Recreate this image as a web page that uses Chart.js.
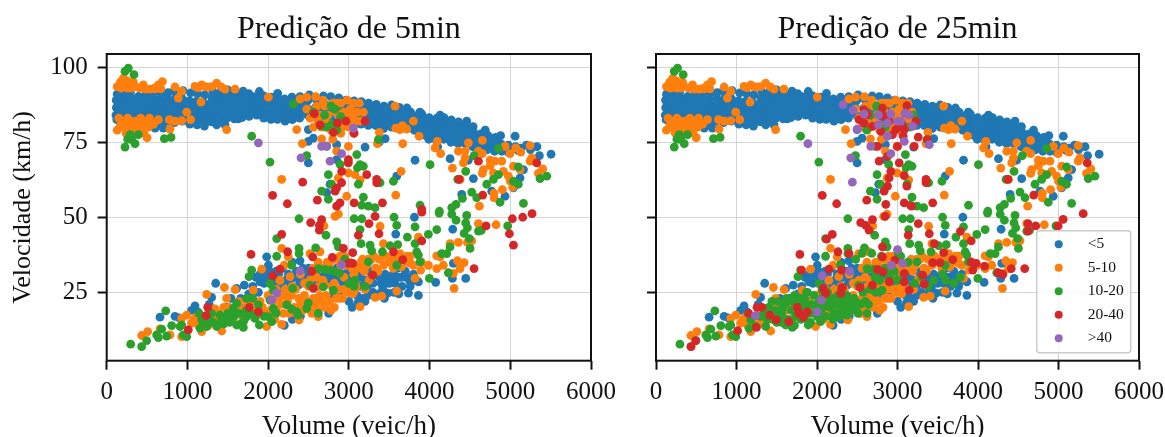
<!DOCTYPE html>
<html><head><meta charset="utf-8">
<script src="https://cdn.jsdelivr.net/npm/chart.js@4"></script>
<style>html,body{margin:0;padding:0;background:#fff;width:1165px;height:437px;overflow:hidden}
canvas{position:absolute;top:0;filter:blur(0.35px)}</style></head>
<body><canvas id="a" style="left:0"></canvas><canvas id="b" style="left:600px"></canvas>
<script>
const xTicks=[0,1000,2000,3000,4000,5000,6000];
const yTicks=[25,50,75,100];
const classes=['<5','5-10','10-20','20-40','>40'];
const titles=['Predição de 5min','Predição de 25min'];
// flat lists: volume, velocity, volume, velocity ...
const blueBand=[115,84,120,86.5,118,89,125,82.5,130,91,205,82,210,84.5,200,87,215,89.5,210,91.5,290,81.8,300,84.8,285,87.4,300,90,295,91.8,385,82.2,390,85,380,87.6,395,90.3,480,81.8,470,84.4,485,87,475,89.8,490,91.4,570,82.4,560,85,575,87.5,565,90,580,91.6,660,81.5,650,84.2,665,86.8,655,89.4,670,91.4,745,82,755,84.6,740,87.2,750,89.8,760,91.5,840,81.5,835,84.2,850,86.8,845,89.4,830,91.9,935,82,925,84.6,940,87.2,930,89.8,945,92.2,1030,81,1020,83.6,1035,86.2,1025,88.8,1040,91.4,1120,80.8,1115,83.4,1130,86,1110,88.6,1125,91.2,1210,80.4,1205,83,1220,85.6,1200,88.2,1215,90.8,1300,81.8,1310,84.4,1295,87,1305,89.6,1315,91.8,1395,82.6,1385,85.2,1400,87.8,1390,90.4,1410,92,1490,83,1480,85.6,1495,88.2,1485,90.8,1500,92.4,1580,82.8,1575,85.4,1590,88,1570,90.6,1585,92.2,1675,83.2,1665,85.8,1680,88.4,1670,91,1690,92,1765,83.6,1755,86.2,1770,88.8,1760,91.2,1860,84,1850,86.6,1865,89.2,1891,91.9,1945,83,1940,85.6,1955,88.2,1948,90.4,2035,82.6,2030,85.2,2045,87.8,2040,90,2118,91.3,2115,82.6,2120,85.2,2130,87.8,2125,89.6,2210,82,2200,84.6,2215,87.2,2205,89.4,2300,82.5,2290,85,2305,87.5,2295,90,2390,83,2385,85.5,2400,88,2395,90.2,2510,90.8,2490,84,2480,86.5,2495,89,2590,84,2585,86.5,2600,89,2680,83,2675,85.5,2690,88,2685,90.4,2780,82.5,2770,85,2785,87.5,2775,90.2,2870,82,2865,84.5,2880,87,2875,89.8,2970,81.5,2960,84,2975,86.5,2965,89,3060,81,3055,83.5,3070,86,3065,88.8,3150,81,3145,83.5,3160,86,3155,88.5,3240,80.6,3235,83,3250,85.6,3245,88,3335,80.5,3330,83,3345,85.4,3340,87.6,3430,79.5,3425,82,3440,84.5,3435,87,3530,80,3525,82.5,3540,85,3530,87.4,3620,79.5,3615,82,3630,84.5,3625,86.6,3715,79.5,3710,82,3725,84.3,3720,86.4,3810,79,3805,81.5,3820,83.8,3880,85,3900,77.5,3895,80,3910,82.4,3905,84.4,3990,76,3985,78.5,4000,81,3995,83.2,4085,75.5,4080,78,4095,80.5,4090,83,4130,84,4175,76,4170,78.5,4185,80.8,4180,83.2,4265,75,4260,77.5,4275,80,4270,82.4,4355,74.5,4350,77,4365,79.5,4360,81.8,4460,82,4445,74.5,4440,77,4455,79.5,4535,73.5,4530,76,4545,78.4,4540,80.2,4625,73,4620,75.5,4635,77.8,4690,79,4715,72.5,4710,75,4725,77.2,4805,72,4800,74.6,4815,76.6,4880,77.2,4895,72,4890,74.4,4980,71.5,4975,74,5060,77,5065,73.5,5130,73,5200,74,5250,72.5,5330,73.5,5361,70.5,5505,71];
const blueFill=[160,83.3,165,85.7,160,88.2,250,83.2,245,85.9,255,88.6,345,83.5,340,86.2,350,88.9,430,83.6,435,86.1,425,88.7,525,83.4,520,86.3,530,88.8,615,83.7,610,86.2,620,88.8,705,83.1,700,85.7,710,88.3,795,83.3,800,85.9,790,88.6,890,83.1,885,85.6,895,88.2,980,83,975,85.6,985,88.5,1070,82.4,1075,85,1065,87.6,1165,82,1160,84.8,1170,87.4,1255,82,1250,84.7,1260,87.5,1350,83.4,1345,86,1355,88.7,1440,84.1,1435,86.6,1445,89.2,1530,84.3,1525,86.8,1535,89.6,1625,84.2,1620,86.9,1630,89.5,1715,84.6,1710,87.2,1720,89.9,1810,85.2,1805,87.8,1815,90.2,1900,84.4,1895,87.2,1905,89.6,1990,84,1985,86.6,1995,89,2080,84,2075,86.5,2085,88.8,2165,83.4,2160,86,2170,88.4,2250,83.4,2245,85.9,2255,88.3,2345,83.8,2340,86.3,2350,88.8,2440,85,2435,87.5,3015,82.3,3020,84.8,3010,87.3,3105,82.2,3110,84.8,3100,87.4,3195,81.8,3200,84.3,3190,86.8,3290,81.8,3285,84.2,3295,86.5,3385,81,3380,83.6,3390,86,3480,81,3475,83.6,3485,86,3575,80.8,3570,83.4,3580,85.8,3670,80.8,3665,83.2,3675,85.4,3760,80.4,3755,82.8,3765,85,3850,78.6,3845,81,3855,83.2,3945,77.4,3940,79.8,3950,82,4040,77,4035,79.4,4045,81.8,4130,77,4125,79.4,4135,81.8,4220,76.4,4215,78.8,4225,81.2,4310,76,4305,78.4,4315,80.8,4400,75.6,4395,78,4405,80.4,4490,75,4485,77.4,4495,79.6,4580,74.4,4575,76.8,4670,74,4665,76.4,4760,73.4,4755,76,4850,73.2,4845,75.4,4940,72.8,5020,72.8,5100,72.2];
const blueMid=[600,79.7,700,79.7,1363,80.8,1466,80.8,1631,82.8,2498,79.2,2560,76.4,2498,75.3,2498,68.1,2849,69.2,2767,61,2725,58.2,2849,74.2,3820,69,4254,69.5,4543,62.9,4399,57.6,4770,58.7,4935,57,5121,63.1,5039,59.8,3593,63.7,3201,73.4,5163,65.9,3812,50,3581,44.4,4287,46,3738,24.7,3862,24,4076,28.3,4448,29.6,4283,29.6,4295,34.6,3862,28.5,3375,75,4480,69,4100,73.5,3450,76.2];
const blueLow=[660,16.7,846,17,900,16.5,1053,19,1094,20.5,1130,18.5,1350,28,1300,23.3,1270,21,1610,26.3,1705,27.4,1982,36.8,2003,34,1480,20,1540,23,1600,19,1660,23,1720,20,1760,24.5,1810,27,1850,30,1900,31,1880,25,1950,28,1990,31,2040,29,2100,32,2140,29,2180,33,2250,31,2300,35,2395,35.5,2350,32,2400,29,2450,31,2500,33,2550,29,2600,27,2650,30,2700,33,2750,29,2800,31,2850,33,2900,29,2950,31,3000,33,3050,29,3100,31,3150,27,3200,29,3250,32,3300,28,3350,31,3400,28,3450,31,3500,28,3550,31,3600,33,3650,30,3700,32,3750,29,3800,31,3100,24,3170,23,3240,24,3300,25,3400,25,3480,24.7,3560,25,3620,24.5,3000,22,2900,25,2800,24,2700,21,2600,23,2500,20,2400,17,2300,16,2200,14,2750,18,3040,20,3100,27];
const blueLowFill=[1900,28.5,1960,30.5,2020,32,2070,27,2130,31,2170,26.5,2220,29,2280,27.5,2330,30,2380,27.5,2430,33,2480,29,2530,31,2590,32,2640,28,2690,31,2740,31.5,2790,28,2840,30,2890,31.5,2930,27,2980,29,3030,31,3080,28,3130,30,3180,32,3230,27,3280,30,3330,33,3380,30,3420,26.5,3470,29,3520,30,3570,28,3610,30,3660,27,3710,30,3760,27,3820,29,3440,23,3350,24,3200,22,3110,21.5];
const orangeBand=[144,93.6,206,96.3,227,94.1,289,94.7,351,93.6,454,94.1,537,92.7,640,94.1,690,95.2,846,93.4,929,92,887,89.7,1094,93.6,1177,94.1,1247,93.4,1363,94.7,1466,92.7,1590,92.7,2003,90,180,93,260,93,310,93,410,93,590,93,1420,93.4,150,83,130,79,190,82,210,80,260,83,240,78,300,82,320,79,360,82,370,78,420,83,420,79,470,82,460,78,520,80,530,83,1168,88.4,991,85,1040,82.5,929,82.2,846,82,776,82.5,640,82.5,784,79.4,1486,79.2,580,81,500,76.5,400,78,170,80.5,230,82,280,80.5,340,81,400,81,450,80,490,80,130,93.5,170,95,250,95.5,200,93.5,330,95,480,92.7,600,92.8,670,92.8,1130,93.2,1210,93.5,1300,93.5];
const orangeMid=[2354,79.2,2424,74.5,2168,62.6,2663,76.1,2849,72,2994,73.6,2994,64.8,2870,63.1,2973,57,3573,87,3800,82,3581,79.7,3634,79.2,3663,80.5,3717,79.4,3870,77,3378,78.3,3668,74.5,3354,74.5,4097,75.3,4068,73.1,4138,71.2,4357,72,4440,72,4481,74.8,4654,75.6,4605,72,4654,71.2,4440,69.8,4419,68.1,4935,73.6,5068,73.1,4997,71.2,5130,71.7,5245,73.9,5266,69.8,5245,68.7,4750,69,4811,68.7,4894,68.7,4750,67.2,4667,65.9,4654,64.6,4915,65.3,5039,67,5121,65.9,5402,66.1,5348,64.6,4791,64.8,4977,63.7,4283,66.4,3647,65.3,3077,64.2,3139,62.4,3581,57.4,4799,58,4799,56.5,4902,59.2,4617,53.7,4378,62.6,3387,47,3428,41.2,4605,47.9,4824,47.5,3862,43.4,4357,41.6,4254,41.2,4522,42.1,4469,41.6,4089,37.1,4130,36.8,4171,34,4089,32.9,3985,34,4345,35.5,4428,34.9,4378,32.9,4295,31.3,4304,26.3,3820,29.6,3890,32.4,3758,34.6,3634,37.9,3593,25.4,3139,20.2,3407,23.7,3325,23.3,5000,62,5030,60];
const orangeTopCluster=[2395,89.4,2478,90,2589,90.2,2480,86,2520,83,2560,80,2600,87,2640,84,2660,80,2700,87,2740,84,2760,81,2800,88,2840,85,2880,82,2900,88,2940,85,2980,89,3020,86,3060,88,3100,85,3140,82,3180,85,3030,82,3060,78,2900,78,2800,76,2620,82,2680,89,2720,81.5,2780,79,2860,88,2920,80,2960,83,3000,80,3090,82,3130,88,3040,84];
const orangeLow=[433,10.6,508,11.9,660,12.8,784,10.8,929,10.2,929,16.3,991,17.4,1239,24.3,1458,26.6,1590,25.9,1486,23,1053,14.7,1177,11.9,1425,12.1,1280,19.1,1340,19.5,1321,16.9,1693,19.1,1755,19.6,1817,25.7,1920,32.7,2168,39.6,2250,36.8,2168,14.3,1982,13.6,2383,15.8,2622,16.9,2147,29,2271,30.2,2519,37.9,2643,38.5,2829,50.3,2870,51,2692,47.1,1400,16,1500,18,1560,16,1620,20,1800,22,1870,19,1930,20,2000,24,2060,22,2100,19,2160,21,2210,24,2260,18,2320,20,2380,23,2430,19,2480,22,2540,18,2590,21,2640,24,2700,20,2760,22,2820,20,2880,23,2940,26,3000,25,2300,27,2400,31,2500,27,2560,33,2620,35,2680,29,2730,35,2790,27,2850,36,2900,34,2950,37,3010,35,3060,31,3110,33,3170,36,3220,34,3280,36,3330,33,3380,36,3430,34,3500,35,3550,33,3600,36,3680,35,3720,37,3800,34,3900,35,1180,15,1120,17,1260,14,2200,34,2100,26,3050,24.5,3090,27,3200,26,3250,29];
const orangeLowFill=[1080,16,1140,14,1220,17,1280,15,1360,14,1380,18,1450,20,1520,20,1580,18,1640,22,1690,16,1740,21,1790,19,1850,17,1900,22,1950,18,2030,19,2080,16,2130,23,2190,18,2240,22,2290,24,2350,18,2400,21,2450,24,2510,20,2560,23,2610,19,2660,22,2720,24,2780,19,2840,23,2870,26,2920,23,2970,25,3020,27,3070,25.5,2210,26,2260,25,2340,26,2450,28,2520,29,2600,30,2660,33,2760,34,2810,36,2890,37,2960,34,3040,33,3150,35,3190,32,3240,36,3310,37,3360,32,3460,37,3530,36,3570,37,3650,33.5,3710,36,3760,37,2630,27,2700,27.5,2820,28,2940,30];
const greenBand=[268,99.7,227,98.6,338,97.5,289,77.5,392,77.5,309,75.9,227,73.4,351,74.5,260,76,714,76.2,797,76.6,1796,77,2023,68.4];
const greenMid=[2478,70.5,2746,64.2,2663,58.7,2746,56,2787,61,2891,67.6,2725,73.6,4006,67.5,4448,65.3,4551,70.5,4853,72.9,4791,62.6,4708,61,4853,64.2,5039,62,5100,61,5100,66.8,5369,62.9,5452,63.7,3552,62,3387,61.5,3139,67.5,3106,66.5,3180,67,3118,61,3180,56.7,3098,70.9,3366,75.9,4522,58.4,4407,56.3,4584,56.5,4873,55,5163,54.6,3882,54,4328,54.3,4275,53.2,4122,52,3160,54,3242,53.7,3325,53.2,4349,62.6,3065,49.5,3160,49.5,3560,50,3593,47.3,3139,45.9,3725,43.4,3820,46.8,3985,44.3,4089,45.9,4118,51.4,4275,51,4460,50.6,4328,49,4448,48.1,4469,46.5,4428,44.6,4605,45.4,4640,45.6,4968,47.1,4493,42.9,4502,39.6,4254,40.1,4213,37.9,4151,37.9,3820,41.2,3841,38.5,3862,37.4,3882,35.1,3606,40.9,3511,40.5,3416,38.5,3263,40.7,3283,38.8,3151,41.2,3242,35.1,3593,34,4233,31.5,3998,29.6];
const greenLeftTop=[2312,87.7,2560,85,2700,84,2780,87,2830,86,2900,83.5,2790,81,2720,80,2650,80.5,2850,79];
const greenLow=[297,7.7,433,6.9,495,8.9,619,10.8,681,12.7,640,9.9,743,10.4,731,18.8,805,13.9,929,14.1,908,13.6,950,10.8,991,10.2,1144,18,1177,15.8,1156,13,1239,13.6,1363,13.6,1404,17.4,1466,15.8,1548,16.9,1569,19.6,1610,21.3,1610,14.1,1693,13.3,1734,23,1809,23,1734,16.9,1837,16.3,1891,14.1,1879,20.8,1796,32.4,1763,30.2,2106,42.9,2383,49.5,2717,44,2383,39.6,2383,37.9,2106,37,2589,39.8,2292,34,2023,27.9,2065,25.7,2304,26.3,2519,27.4,2684,26.8,2808,25.7,2622,32.9,2705,32.6,2767,32.4,2829,31.8,2882,31.3,2849,41.8,2870,40.1,2230,20.8,2292,19.4,2354,18.5,2374,17.4,2478,19.6,2498,21.5,2622,18,2044,15.2,2003,16.9,2065,19.6,2023,22.4];
const greenLeftExtra=[1260,16,1320,15,1450,14.5,1520,15,1640,18,1700,15.5,1780,18,1950,17,2100,18,3065,27,3077,29,3200,27,2950,36,3000,28,1500,18,1420,15,1580,17,1660,14.5,1730,19,1200,14.5,1300,18];
const greenRightExtra=[1300,17,1350,19,1400,20,1440,22,1480,19,1500,15,1520,22,1560,18,1580,21,1620,23,1640,16,1680,19,1700,22,1720,24,1760,19,1780,21,1800,16,1830,19,1850,23,1870,25,1910,18,1940,21,1960,24,1990,20,2020,18,2060,23,2090,21,2110,17,2130,25,2160,20,2190,23,2210,18,2240,21,2260,24,2280,17,2310,22,2340,20,2370,24,2400,21,2430,19,2460,23,2510,18,2540,21,2570,25,2600,22,2640,21,2660,26,2730,25,2780,29,2840,33,2900,30,2960,32,3010,38,3040,37,3130,35,3000,29,3080,31,3210,28,3300,30,3380,27,3450,29,3560,31,3600,29,3700,28,3780,30,2680,38,2560,38,2720,30,2800,37,2480,36,2620,79,2660,84,2740,87,2800,85,2850,80,3200,84,3150,80,1560,15,1450,17,1380,16,1720,14,1920,15,2200,16,2420,22,2140,22,1850,20];
const redLeft=[2573,84.5,2643,80.8,2858,81.4,2808,78.3,2965,82,2056,57.3,2238,54.5,2428,61.7,2610,55.7,2911,65.3,2911,61.5,2849,59.8,2829,58.7,2994,68.1,2891,54.8,2849,53.7,2994,69.2,4605,68.7,5328,68.1,3221,64.2,3345,62.6,3345,61.5,4366,62.6,4659,57.4,3416,54.8,3065,54.8,3903,52.6,3201,82,3065,78,5026,49.5,5154,50,5270,51.2,4989,44.5,5039,40.7,4700,47.1,4551,32.9,3903,42.1,3903,51.7,3374,44.5,3118,44,3325,50.3,3250,47.9,3552,38.5,3668,35.9,3048,38.2,3048,34.6,3296,30.7,1011,12.5,1230,17.2,1251,20,1767,20,1879,18.5,1788,37.6,2056,30.5,2147,32.7,2242,38.5,2168,44.3,2527,48.2,2635,47.3,2635,45.7,2663,49.2,2552,36.8,2540,32,2561,26.3,2796,36.6,2932,39.6,2994,34.6];
const redRight=[2065,57.3,2244,54.5,2618,55.7,2772,68.7,2751,73.6,2876,70.3,2917,65.3,2896,63.1,2876,60.4,2834,58.7,2855,54.3,3000,73.6,3021,68.1,2585,85.8,2522,82.5,2585,81.4,2626,84.2,2813,86.4,2834,83.6,2896,82,2980,79.2,3021,80.8,2793,78.6,2938,77.5,2689,80.3,3117,87.2,3084,79.2,3060,81,3229,82,3258,76.7,3208,73.6,3070,77,5357,68.1,3354,62.6,3354,61.5,4372,62.6,4692,57.4,3437,54.8,3084,54.8,3175,53.7,3084,63.9,3117,60.4,3374,75.9,436,6.9,494,8.9,1014,12.2,1151,18,1255,20,1317,20,1247,13.3,1413,17.4,1496,15.8,1650,15.2,1754,20,1774,18,1828,16.7,1878,18.5,1808,32.4,1787,37.6,2119,42.7,2190,44.3,2261,38.5,2398,37.9,2149,32.7,2306,32.4,2078,26.3,2107,24.6,2315,26.6,2294,24.6,2535,26.6,2689,27.4,2896,28.5,2751,32.6,2822,31.8,2813,36.8,2813,40.1,2967,35.7,2543,48.2,2606,47.3,2647,45.7,2689,49.2,2847,50.3,5307,51.2,5058,49.3,4995,47.1,4717,47.1,4621,47.9,4621,45.4,4580,32.9,4413,32.9,4310,31,4247,31.5,4081,33.7,3977,34.6,3915,35.1,3936,32.4,3686,35.9,3528,34.9,3437,34.9,3574,38.2,3458,41.2,3395,44.5,3782,45.3,3915,42.1,3133,44,3258,47.9,3312,30.7,3333,27.7,3084,28.5,3146,25.7,3084,31.3];
const purpleLeft=[1879,74.8,2407,69.8,2663,73.6,2725,73.8,2767,68.7,2911,71.2,3056,79.7,2395,32.1,2911,34.1,2044,22.5,2106,24.7];
const purpleRight=[2323,87.5,2448,85.6,2585,84.4,2764,84,2917,84.4,2764,80.8,2876,81.4,3000,82,2502,79.4,2876,77,2668,73.6,1887,74.5,2917,71.2,2419,69.8,2439,61.7,3092,84.7,3146,84,3187,80.3,3084,75.3,3395,74.2,3042,82,1234,17.2,2003,18.5,2053,22.4,2065,30.5,2406,32,2925,34,3000,39.2,3063,34.6];
const colors=['#1f77b4','#ff7f0e','#2ca02c','#d62728','#9467bd'];
const pts=(...lists)=>{const o=[];lists.forEach(l=>{for(let i=0;i+1<l.length;i+=2)o.push({x:l[i],y:l[i+1]})});return o};
const serif='"Liberation Serif"';
const series=[
 [pts(blueBand,blueFill,blueMid,blueLow,blueLowFill),pts(orangeBand,orangeMid,orangeTopCluster,orangeLow,orangeLowFill),pts(greenBand,greenMid,greenLeftTop,greenLow,greenLeftExtra),pts(redLeft),pts(purpleLeft)],
 [pts(blueBand,blueFill,blueMid,blueLow,blueLowFill),pts(orangeBand,orangeMid,orangeTopCluster,orangeLow,orangeLowFill),pts(greenBand,greenMid,greenLow,greenRightExtra),pts(redRight),pts(purpleRight)]
];
const frame={id:'frame',afterDraw(c){const a=c.chartArea,g=c.ctx;g.save();g.strokeStyle='#111';g.lineWidth=2;g.strokeRect(a.left,a.top,a.right-a.left,a.bottom-a.top);g.restore();}};
const legendBox={id:'legendBox',afterDatasetsDraw(c){
 const g=c.ctx,a=c.chartArea,x=a.right-102.3,y=a.top+176.7,w=94,h=122;
 g.save();g.beginPath();g.roundRect(x,y,w,h,3);g.fillStyle='rgba(255,255,255,0.8)';g.fill();g.strokeStyle='#ccc';g.lineWidth=1.5;g.stroke();
 g.textBaseline='middle';g.textAlign='left';g.font='15.5px '+serif;
 c.data.datasets.forEach((d,i)=>{const cy=y+13.5+i*23.5;g.fillStyle=d.backgroundColor;g.beginPath();g.arc(x+22,cy,4,0,7);g.fill();g.fillStyle='#111';g.fillText(d.label,x+51,cy);});
 g.restore();}};
function make(id,idx,w,yWidth){
 const el=document.getElementById(id);el.width=w;el.height=437;el.style.width=w+'px';el.style.height='437px';
 return new Chart(el,{type:'scatter',
 data:{datasets:classes.map((c,i)=>({label:c,data:series[idx][i],order:classes.length-i,backgroundColor:colors[i],borderWidth:0,pointRadius:4.4,pointHoverRadius:4.4}))},
 plugins:idx?[frame,legendBox]:[frame],
 options:{responsive:false,animation:false,events:[],layout:{padding:0},
 plugins:{legend:{display:false},tooltip:{enabled:false},title:{display:true,fullSize:false,text:titles[idx],color:'#111',font:{family:serif,size:32,weight:'normal',lineHeight:1.2},padding:{top:10,bottom:5.6}}},
 scales:{
  x:{type:'linear',min:0,max:6000,afterBuildTicks(s){s.ticks=xTicks.map(v=>({value:v}))},afterFit(s){s.height=76.3},
   grid:{color:'#d4d4d4',lineWidth:1,tickColor:'#111',tickWidth:2,tickLength:9},border:{display:false},
   ticks:{color:'#111',font:{family:serif,size:25},padding:8,maxRotation:0,autoSkip:false,callback:v=>String(v)},
   title:{display:true,text:'Volume (veic/h)',color:'#111',font:{family:serif,size:27,lineHeight:1.2},padding:{top:0,bottom:-6}}},
  y:{type:'linear',min:2.2,max:104.4,afterBuildTicks(s){s.ticks=yTicks.map(v=>({value:v}))},afterFit(s){s.width=yWidth},
   grid:{color:'#d4d4d4',lineWidth:1,tickColor:'#111',tickWidth:2,tickLength:9},border:{display:false},
   ticks:{display:idx===0,color:'#111',font:{family:serif,size:25},padding:10,autoSkip:false,callback:v=>String(v)},
   title:{display:idx===0,text:'Velocidade (km/h)',color:'#111',font:{family:serif,size:26,lineHeight:1.2},padding:{top:8,bottom:0}}}
 }}});
}
make('a',0,624,106.7);
make('b',1,572,56);
</script></body></html>
